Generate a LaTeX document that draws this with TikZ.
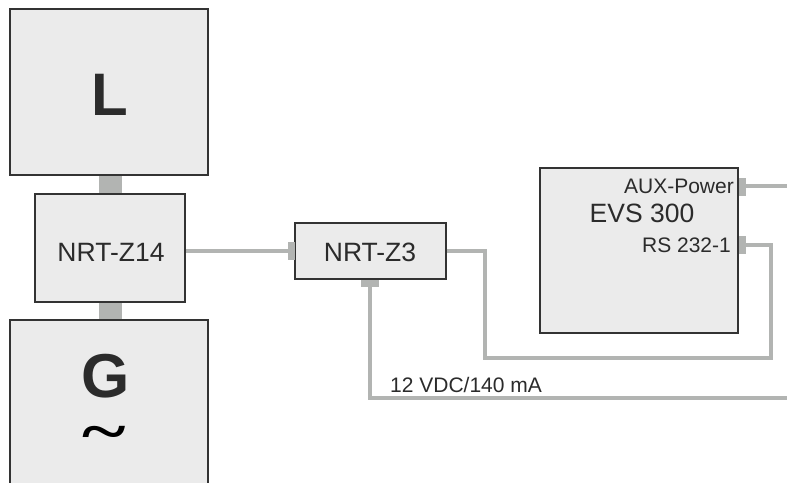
\documentclass[tikz,border=0pt]{standalone}
\usepackage{fontspec}
\setmainfont{Liberation Sans}
\newfontfamily\tildefont{Liberation Serif}
\definecolor{boxfill}{HTML}{EBEBEB}
\definecolor{boxline}{HTML}{333333}
\definecolor{wire}{HTML}{B2B4B2}
\definecolor{ink}{HTML}{2B2B2B}
\tikzset{
  unit/.style={draw=boxline,fill=boxfill,line width=1.2pt,inner sep=0pt,text=ink},
  wireline/.style={draw=wire,line width=3.2pt},
  port/.style={fill=wire,draw=none,inner sep=0pt},
  biglabel/.style={text=ink,inner sep=0pt,font=\fontsize{26.5}{28}\selectfont},
  smalllabel/.style={text=ink,inner sep=0pt,font=\fontsize{21}{23}\selectfont}
}
\begin{document}
\begin{tikzpicture}[x=1pt,y=-1pt]
\useasboundingbox (0,0) rectangle (787,482);
\fill[white] (0,0) rectangle (787,482);
% thick couplers
\node[port,minimum width=23pt,minimum height=22pt] (cu) at (110.5,184.5) {};
\node[port,minimum width=23pt,minimum height=22pt] (cd) at (110.5,311) {};
% boxes
\node[unit,minimum width=198pt,minimum height=166pt] (L) at (109,92) {};
\node[unit,minimum width=150pt,minimum height=108pt] (Z14) at (110,248) {};
\node[unit,minimum width=198pt,minimum height=170pt] (G) at (109,405) {};
\node[unit,minimum width=198pt,minimum height=165pt] (EVS) at (639,250.5) {};
\node[unit,minimum width=151pt,minimum height=56pt] (Z3) at (370.5,251) {};
% ports
\node[port,minimum width=7pt,minimum height=18pt] (pz3l) at (291.5,251) {};
\node[port,minimum width=18pt,minimum height=7pt] (pz3b) at (370,283) {};
\node[port,minimum width=7pt,minimum height=18pt] (paux) at (742,187) {};
\node[port,minimum width=7pt,minimum height=18pt] (prs) at (742,245) {};
% free ends and bends
\coordinate (auxa) at (745,186);
\coordinate (auxend) at (787,186);
\coordinate (pwrend) at (787,398);
\coordinate (b1) at (485,251);
\coordinate (b2) at (485,358);
\coordinate (b3) at (771,358);
\coordinate (b4) at (771,245);
\coordinate (b5) at (370,398);
% wires
\draw[wireline] (186,251) -- (pz3l.west);
\draw[wireline,line join=miter] (Z3.east |- b1) -- (b1) -- (b2) -- (b3) -- (b4) -- (prs.east);
\draw[wireline] (auxa) -- (auxend);
\draw[wireline,line join=miter] (pz3b.south) -- (b5) -- (pwrend);
% labels
\node[text=ink,inner sep=0pt,font=\bfseries\fontsize{60}{62}\selectfont] (Lt) at (110,95) {L};
\node[text=ink,inner sep=0pt,font=\bfseries\fontsize{62}{64}\selectfont] (Gt) at (106,376) {G};
\node[text=black,inner sep=0pt,font=\tildefont\bfseries\fontsize{96}{98}\selectfont] (tilde) at (104,439) {\scalebox{0.87}[0.62]{\symbol{"7E}}};
\node[biglabel] (Z14t) at (111,252) {NRT-Z14};
\node[biglabel] (Z3t) at (370,252) {NRT-Z3};
\node[biglabel] (EVSt) at (642,213) {EVS 300};
\node[smalllabel,anchor=east] (auxt) at (734,186) {AUX-Power};
\node[smalllabel,anchor=east] (rst) at (731,245) {RS 232-1};
\node[smalllabel,anchor=west] (vt) at (390,385) {12 VDC/140 mA};
\end{tikzpicture}
\end{document}
